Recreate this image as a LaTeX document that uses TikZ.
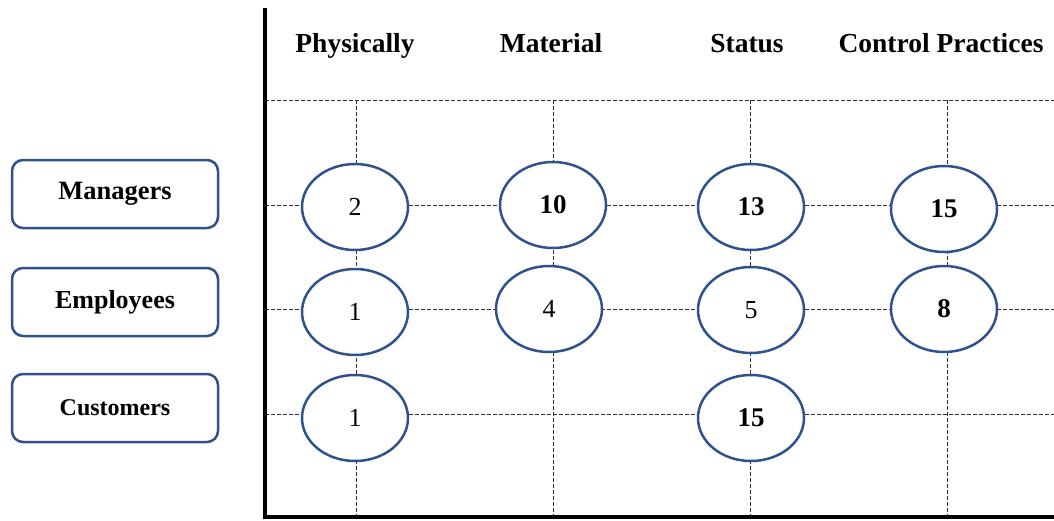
\documentclass[tikz,border=0pt]{standalone}
\usepackage{fontspec}
\setmainfont{Liberation Serif}
\usetikzlibrary{shapes.geometric}
\definecolor{rimblue}{RGB}{47,82,143}
\definecolor{gridgray}{RGB}{50,50,50}
\tikzset{
  gridline/.style={draw=gridgray, line width=1pt, dash pattern=on 4pt off 2pt},
  axisline/.style={draw=black, line width=4pt},
  headtext/.style={font=\fontsize{27.5}{32}\selectfont\bfseries, inner sep=0pt, anchor=base},
  groupbox/.style={draw=rimblue, line width=2.5pt, rounded corners=11pt, fill=white,
    minimum width=206pt, minimum height=68pt, inner sep=0pt},
  cell/.style={ellipse, draw=rimblue, line width=2.5pt, fill=white,
    minimum width=106pt, minimum height=86pt, inner sep=0pt,
    font=\fontsize{26}{30}\selectfont},
  cellbold/.style={cell, font=\fontsize{27}{30}\selectfont\bfseries}
}
\begin{document}
\begin{tikzpicture}[x=1pt,y=-1pt]
\useasboundingbox (0,0) rectangle (1054,520);

% dashed grid
\draw[gridline] (265,100) -- (1054,100);
\foreach \y in {205,309,414} \draw[gridline] (265,\y) -- (1054,\y);
\foreach \x in {356,553,750,947} \draw[gridline] (\x,100) -- (\x,517);

% axes
\draw[axisline] (265,8) -- (265,519);
\draw[axisline] (263,517) -- (1054,517);

% column headings
\node[headtext] (hphys) at (355,52) {Physically};
\node[headtext] (hmat)  at (551,52) {Material};
\node[headtext] (hstat) at (747,52) {Status};
\node[headtext] (hctrl) at (941,52) {Control Practices};

% row groups
\node[groupbox, font=\fontsize{26.5}{30}\selectfont\bfseries] (managers)  at (115,194) {Managers};
\node[groupbox, font=\fontsize{26}{30}\selectfont\bfseries]   (employees) at (115,302) {Employees};
\node[groupbox, font=\fontsize{24}{30}\selectfont\bfseries]   (customers) at (115,408) {Customers};

% counts
\node[cell]     (m1) at (355,207) {2};
\node[cellbold] (m2) at (553,205) {10};
\node[cellbold] (m3) at (751,207) {13};
\node[cellbold] (m4) at (944,209) {15};

\node[cell]     (e1) at (355,312) {1};
\node[cell]     (e2) at (549,309) {4};
\node[cell]     (e3) at (751,310) {5};
\node[cellbold] (e4) at (944,309) {8};

\node[cell]     (c1) at (355,418) {1};
\node[cellbold] (c3) at (751,418) {15};
\end{tikzpicture}
\end{document}
